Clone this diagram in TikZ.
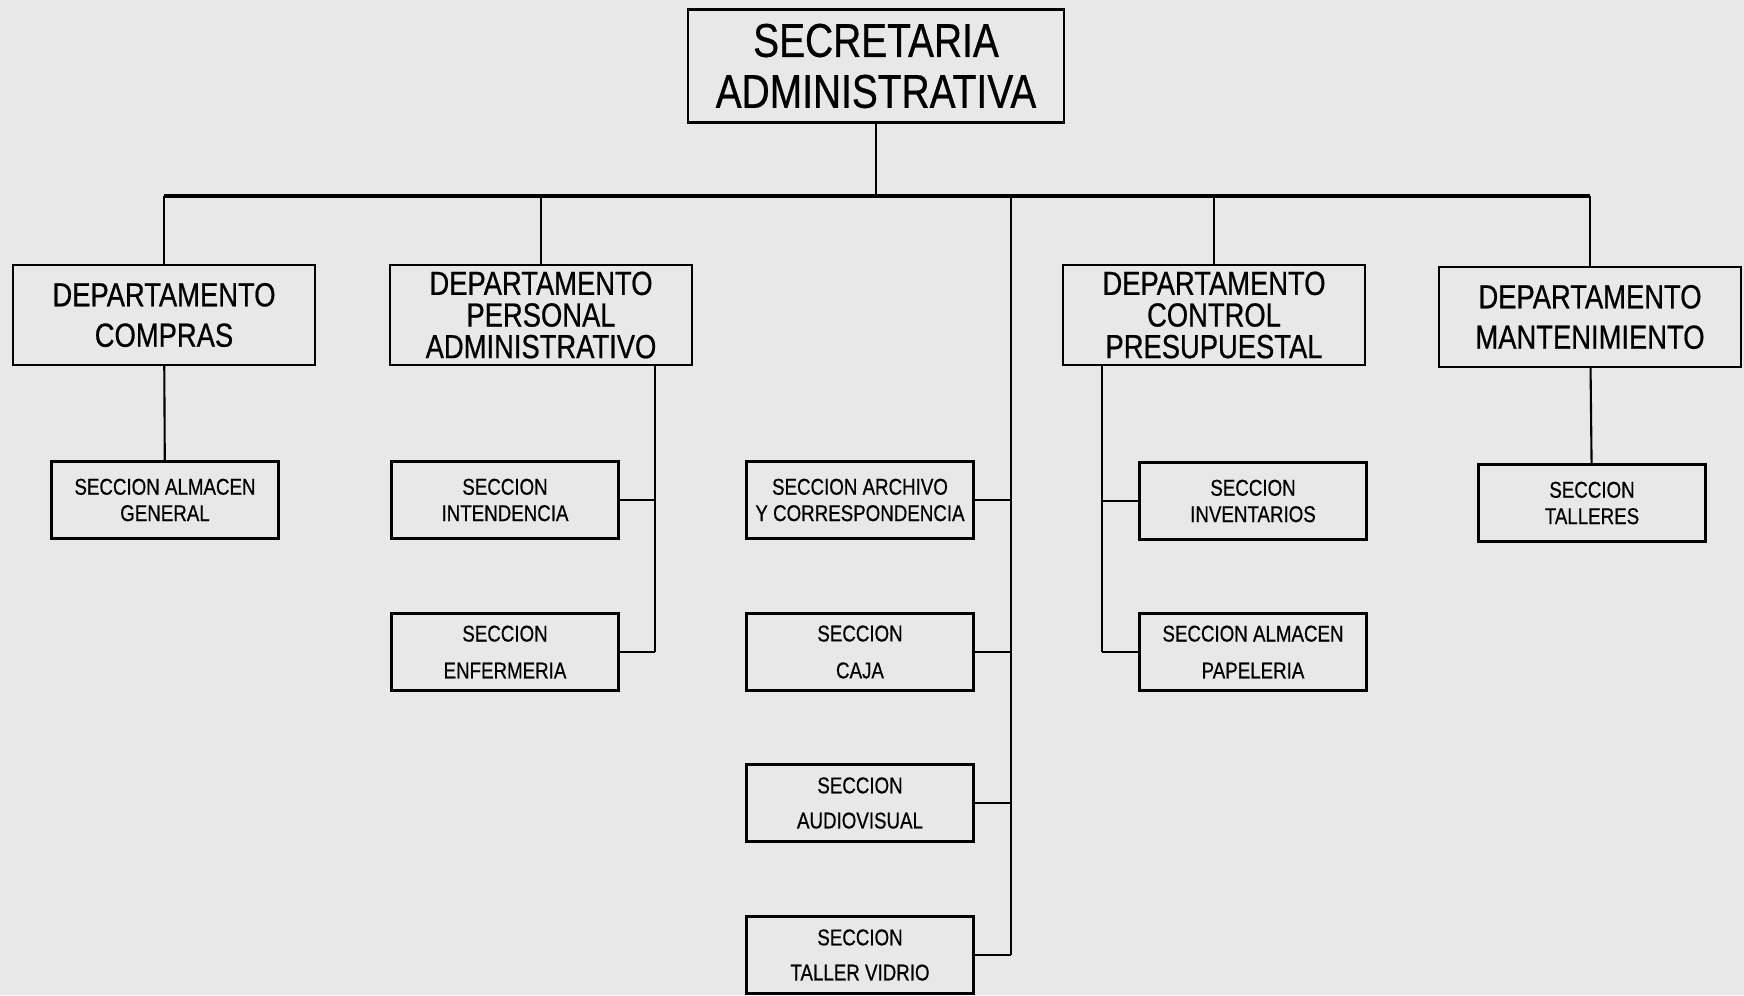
\documentclass[tikz,border=0pt]{standalone}
\usepackage{fontspec}
\setmainfont[FakeStretch=0.82,FakeBold=0.6]{Liberation Sans}
\usepackage{tikz}
\definecolor{papel}{gray}{0.91}
\tikzset{
    caja/.style={draw,line width=1.2pt,align=center,inner sep=0pt},
    edge/.style={line width=1.2pt},
    bus/.style={line width=2pt}
}

\begin{document}
\begin{tikzpicture}[
    x=0.02cm, y=-0.02cm,
    jefe/.style={caja,minimum width=7.52cm,minimum height=2.26cm,font=\fontsize{27}{27}\selectfont},
    depto/.style={caja,minimum width=6.04cm,minimum height=2cm,font=\fontsize{19}{18}\selectfont},
    seccion/.style={caja,minimum width=4.54cm,minimum height=1.54cm,font=\fontsize{13}{15}\selectfont}
]
% Fondo
\fill[papel] (0,0) rectangle (1744,995);
\useasboundingbox (0,0) rectangle (1744,995);

% Secretaria arriba
\node[jefe] (sec) at (876,66) {SECRETARIA\\[2pt]ADMINISTRATIVA};

% Los 4 departamentos
\node[depto] (compras) at (164,315) {DEPARTAMENTO\\[5pt]COMPRAS};
\node[depto] (personal) at (541,315) {DEPARTAMENTO\\PERSONAL\\ADMINISTRATIVO};
\node[depto] (control) at (1214,315) {DEPARTAMENTO\\CONTROL\\PRESUPUESTAL};
\node[depto] (mant) at (1590,317) {DEPARTAMENTO\\[5pt]MANTENIMIENTO};

% Las secciones
\node[seccion] (almacen) at (165,500) {SECCION ALMACEN\\GENERAL};
\node[seccion] (intendencia) at (505,500) {SECCION\\INTENDENCIA};
\node[seccion] (enfermeria) at (505,652) {SECCION\\[6pt]ENFERMERIA};
\node[seccion] (archivo) at (860,500) {SECCION ARCHIVO\\Y CORRESPONDENCIA};
\node[seccion] (cajas) at (860,652) {SECCION\\[6pt]CAJA};
\node[seccion] (audio) at (860,803) {SECCION\\[5pt]AUDIOVISUAL};
\node[seccion] (vidrio) at (860,955) {SECCION\\[5pt]TALLER VIDRIO};
\node[seccion] (inventarios) at (1253,501) {SECCION\\INVENTARIOS};
\node[seccion] (papeleria) at (1253,652) {SECCION ALMACEN\\[6pt]PAPELERIA};
\node[seccion] (talleres) at (1592,503) {SECCION\\TALLERES};

% Barra principal
\coordinate (barra) at (0,196);
\draw[bus] (compras.north |- barra) -- (mant.north |- barra);
\draw[edge] (sec) -- (sec |- barra);
\foreach \d in {compras,personal,control,mant}
    \draw[edge] (\d) -- (\d |- barra);

% Eje central de secciones
\coordinate (eje) at (1011,196);
\draw[edge] (eje) -- (eje |- vidrio);
\foreach \s in {archivo,cajas,audio,vidrio}
    \draw[edge] (\s.east) -- (\s.east -| eje);

% Ramas de cada departamento
\draw[edge] (compras) -- (almacen);
\draw[edge] (mant) -- (talleres);

\coordinate (ejeP) at (655,365);
\draw[edge] (ejeP) -- (ejeP |- enfermeria);
\draw[edge] (intendencia.east) -- (intendencia.east -| ejeP);
\draw[edge] (enfermeria.east) -- (enfermeria.east -| ejeP);

\coordinate (ejeC) at (1102,365);
\draw[edge] (ejeC) -- (ejeC |- papeleria);
\draw[edge] (inventarios.west) -- (inventarios.west -| ejeC);
\draw[edge] (papeleria.west) -- (papeleria.west -| ejeC);
\end{tikzpicture}
\end{document}
